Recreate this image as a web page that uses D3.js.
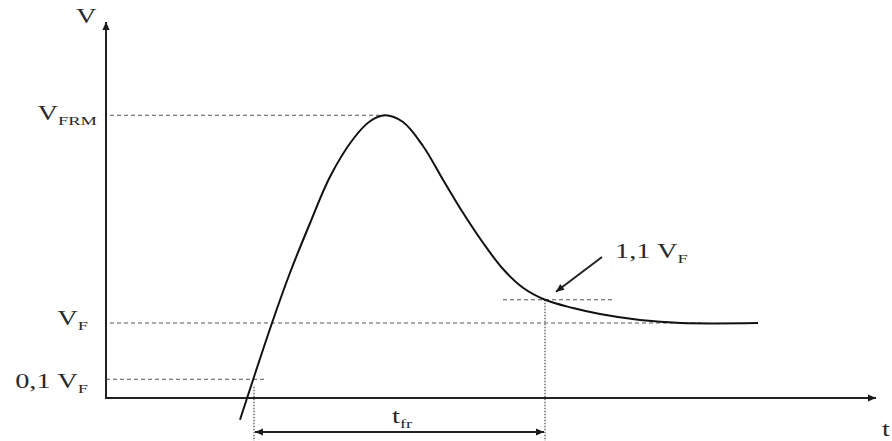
<!DOCTYPE html>
<html>
<head>
<meta charset="utf-8">
<script src="https://cdn.jsdelivr.net/npm/d3@7"></script>
<style>
    body { margin: 0; background: #fff; }
    svg { display: block; }
    text { font-family: "Liberation Serif", "DejaVu Serif", serif; fill: #2a2a2a; }
</style>
</head>
<body>
<svg id="chart" width="892" height="441"></svg>
<script>

// time (arbitrary units) and voltage (schematic units, V_F = 1)
const curveT = [13.4, 16.6, 18.4, 20.4, 22.4, 24.7, 26.4, 27.9, 29.7, 31.7, 33.7, 35.7, 37.7, 39.7, 41.7, 43.9, 46.7, 49.4, 53.4, 57.5, 65.2];
const curveV = [-0.29, 1.0, 1.67, 2.33, 2.95, 3.45, 3.69, 3.77, 3.68, 3.36, 2.91, 2.47, 2.07, 1.72, 1.47, 1.31, 1.2, 1.12, 1.04, 1.0, 1.0];

// reference levels (drawn schematic, not to scale)
const levelNames = ["VFRM", "VF", "V01", "V11"];
const levelValues = [3.77, 1.0, 0.25, 1.31];

// times of interest
const tPeak = 27.9;
const tStart = 14.8;   // curve reaches 0,1 V_F
const tEnd = 43.9;     // curve back to 1,1 V_F

function Diagram()
{
    const svg = d3.select("#chart");

    const x = d3.scaleLinear().domain([0, 77]).range([106, 876]);
    const y = d3.scaleLinear().domain([0, 1]).range([398, 323]);

    const lv = {};
    levelNames.forEach((n, i) => lv[n] = levelValues[i]);

    const defs = svg.append("defs");
    defs.append("marker")
        .attr("id", "head")
        .attr("viewBox", "0 -5 10 10")
        .attr("refX", 10)
        .attr("refY", 0)
        .attr("markerWidth", 10)
        .attr("markerHeight", 8)
        .attr("markerUnits", "userSpaceOnUse")
        .attr("orient", "auto-start-reverse")
        .append("path")
        .attr("fill", "#1a1a1a")
        .attr("d", "M0,-4.5L10,0L0,4.5Z");

    // dashed reference lines
    const dashed = [
        [x(0.4), x(tPeak), lv.VFRM],
        [x(0.4), x(60), lv.VF],
        [x(0), x(16.1), lv.V01],
        [x(39.7), x(50.7), lv.V11]
    ];
    svg.append("g")
        .attr("stroke", "#555")
        .attr("stroke-width", 1)
        .attr("stroke-dasharray", "4,3")
        .selectAll("line")
        .data(dashed)
        .join("line")
        .attr("x1", d => d[0])
        .attr("x2", d => d[1])
        .attr("y1", d => y(d[2]))
        .attr("y2", d => y(d[2]));

    // dotted verticals
    const dotted = [
        [tStart, lv.V01 - 0.1],
        [tEnd, lv.V11]
    ];
    svg.append("g")
        .attr("stroke", "#777")
        .attr("stroke-width", 1.6)
        .attr("stroke-dasharray", "1.5,1.5")
        .selectAll("line")
        .data(dotted)
        .join("line")
        .attr("x1", d => x(d[0]))
        .attr("x2", d => x(d[0]))
        .attr("y1", d => y(d[1]))
        .attr("y2", 441);

    // axes
    svg.append("path")
        .attr("fill", "none")
        .attr("stroke", "#222")
        .attr("stroke-width", 2)
        .attr("marker-start", "url(#head)")
        .attr("marker-end", "url(#head)")
        .attr("d", `M${x(0)},${22}L${x(0)},${y(0)}L${x(77)},${y(0)}`);

    // waveform
    const line = d3.line()
        .x((d, i) => x(curveT[i]))
        .y(d => y(d))
        .curve(d3.curveCatmullRom.alpha(0.5));

    svg.append("path")
        .datum(curveV)
        .attr("fill", "none")
        .attr("stroke", "#111")
        .attr("stroke-width", 2)
        .attr("d", line);

    // t_fr double arrow
    svg.append("line")
        .attr("x1", x(tStart) + 1)
        .attr("x2", x(tEnd) - 1)
        .attr("y1", 432)
        .attr("y2", 432)
        .attr("stroke", "#222")
        .attr("stroke-width", 2)
        .attr("marker-start", "url(#head)")
        .attr("marker-end", "url(#head)");

    // 1,1 V_F pointer
    svg.append("line")
        .attr("x1", 602)
        .attr("y1", 257)
        .attr("x2", x(tEnd) + 11)
        .attr("y2", y(lv.V11) - 8)
        .attr("stroke", "#222")
        .attr("stroke-width", 2)
        .attr("marker-end", "url(#head)");

    // labels with subscripts (source drawing is stretched sideways)
    const labels = [
        {main: "V", sub: "", x: 76, y: 23, anchor: "start"},
        {main: "V", sub: "FRM", x: 97, y: 120, anchor: "end"},
        {main: "V", sub: "F", x: 88, y: 325, anchor: "end"},
        {main: "0,1 V", sub: "F", x: 88, y: 388, anchor: "end"},
        {main: "1,1 V", sub: "F", x: 615, y: 258, anchor: "start"},
        {main: "t", sub: "fr", x: 392, y: 423, anchor: "start"},
        {main: "t", sub: "", x: 890, y: 436, anchor: "end"}
    ];

    const txt = svg.append("g")
        .selectAll("text")
        .data(labels)
        .join("text")
        .attr("transform", d => `translate(${d.x},${d.y}) scale(1.42,1)`)
        .attr("text-anchor", d => d.anchor)
        .attr("font-size", 20);

    txt.append("tspan").text(d => d.main);
    txt.append("tspan")
        .attr("font-size", 13)
        .attr("dy", 5)
        .text(d => d.sub);

    return svg.node();
}

Diagram();
</script>
</body>
</html>
